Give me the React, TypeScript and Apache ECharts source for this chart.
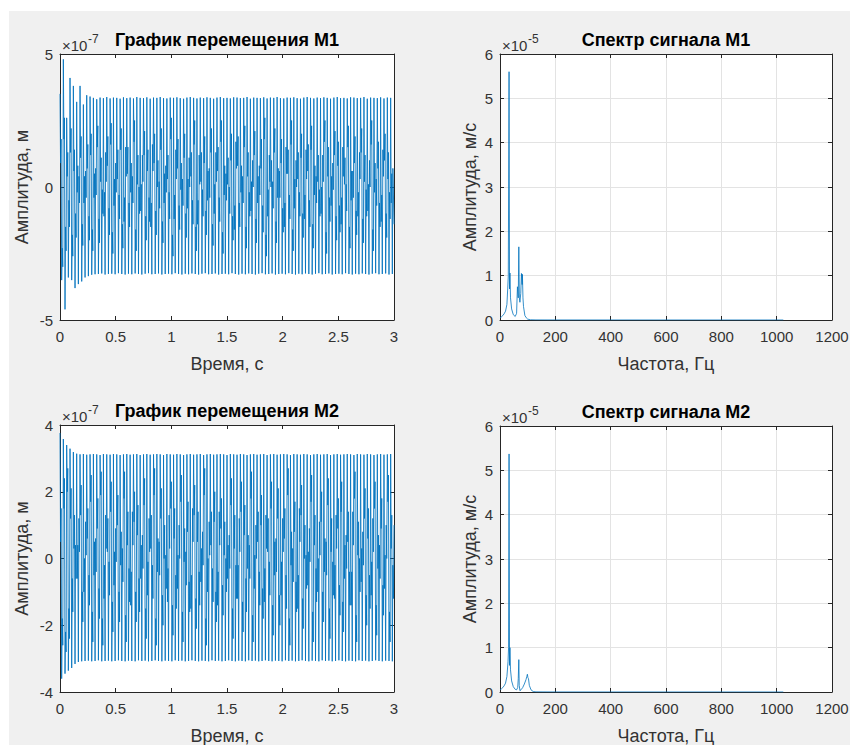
import React, { useEffect, useRef } from "react";
import * as echarts from "echarts";

// ---- Time signals (values in units of 1e-7 m), one cycle = 6 samples ----
const sampleStep = 3 / 600; // s

const peaksM1 = [3.5,4.8,2.6,4.1,3.8,3.2,3.8,3.1,3.45,3.4,
3.35,3.3,3.36,3.34,3.38,3.33,3.36,3.35,3.32,3.37,
3.34,3.36,3.33,3.38,3.35,3.34,3.37,3.32,3.36,3.35,
3.38,3.34,3.33,3.36,3.35,3.37,3.34,3.32,3.36,3.38,
3.35,3.33,3.36,3.34,3.37,3.35,3.32,3.36,3.38,3.34,
3.35,3.33,3.37,3.36,3.34,3.35,3.38,3.32,3.36,3.35,
3.34,3.37,3.33,3.36,3.35,3.38,3.34,3.33,3.36,3.35,
3.37,3.34,3.32,3.36,3.38,3.35,3.33,3.36,3.34,3.37,
3.35,3.32,3.36,3.38,3.34,3.35,3.33,3.37,3.36,3.34,
3.35,3.38,3.32,3.36,3.35,3.34,3.37,3.33,3.36,3.35];
const troughsM1 = [-3.5,-4.6,-3.4,-3.5,-3.8,-3.65,-3.55,-3.4,-3.35,-3.3,
-3.28,-3.27,-3.25,-3.29,-3.27,-3.26,-3.28,-3.24,-3.27,-3.29,
-3.26,-3.28,-3.25,-3.27,-3.29,-3.26,-3.24,-3.28,-3.27,-3.25,
-3.29,-3.27,-3.26,-3.28,-3.24,-3.27,-3.29,-3.26,-3.28,-3.25,
-3.27,-3.29,-3.26,-3.24,-3.28,-3.27,-3.25,-3.29,-3.27,-3.26,
-3.28,-3.24,-3.27,-3.29,-3.26,-3.28,-3.25,-3.27,-3.29,-3.26,
-3.24,-3.28,-3.27,-3.25,-3.29,-3.27,-3.26,-3.28,-3.24,-3.27,
-3.29,-3.26,-3.28,-3.25,-3.27,-3.29,-3.26,-3.24,-3.28,-3.27,
-3.25,-3.29,-3.27,-3.26,-3.28,-3.24,-3.27,-3.29,-3.26,-3.28,
-3.25,-3.27,-3.29,-3.26,-3.24,-3.28,-3.27,-3.25,-3.29,-3.27];
const fallA_M1 = [0.9,1.8,0.4,1.3,0.6,-0.2,1.1,-0.6,0.7,1.2,
-0.4,1.5,0.2,-1.1,0.8,1.6,-0.7,0.3,1.4,-1.3,
0.5,-0.2,1.7,0.1,-0.9,1.2,0.6,-1.5,0.9,0.0,
1.4,-0.6,0.3,1.8,-1.2,0.7,-0.1,1.1,-0.8,0.4,
1.6,-1.4,0.2,0.9,-0.5,1.3,-1.0,0.6,1.7,-0.3,
0.1,1.0,-1.6,0.8,-0.2,1.5,0.4,-0.9,1.2,-0.6,
0.7,1.8,-1.1,0.0,1.3,-0.4,0.9,-1.5,0.5,1.6,
-0.8,0.3,1.1,-1.2,0.6,1.4,-0.3,0.2,-1.0,1.7,
0.4,-0.7,1.2,0.8,-1.4,0.1,1.5,-0.5,0.9,-1.1,
1.3,0.2,-0.9,1.6,-0.2,0.7,-1.3,1.0,0.3,-0.6];
const fallB_M1 = [1.8,2.6,1.3,2.2,1.4,0.8,1.9,0.4,1.6,2.0,
0.5,2.3,1.1,-0.2,1.9,2.4,0.3,1.4,2.2,-0.4,
1.5,0.9,2.5,1.2,0.1,2.1,1.4,-0.6,2.0,1.0,
2.2,0.5,1.2,2.6,-0.3,1.8,0.9,2.0,0.3,1.3,
2.5,-0.5,1.3,1.9,0.6,2.2,0.1,1.5,2.5,0.8,
1.1,2.0,-0.7,1.9,0.8,2.3,1.3,0.2,2.1,0.4,
1.8,2.6,-0.1,1.0,2.2,0.7,1.8,-0.6,1.4,2.5,
0.3,1.3,2.0,-0.3,1.6,2.3,0.8,1.2,0.0,2.5,
1.5,0.4,2.1,1.7,-0.4,1.1,2.3,0.6,1.9,-0.2,
2.2,1.2,0.1,2.5,0.9,1.7,-0.3,2.0,1.3,0.5];
const riseA_M1 = [-2.3,-1.5,-0.5,-1.8,-1.0,0.4,-1.4,0.6,-1.1,-1.6,
0.7,-1.2,-0.1,1.3,-0.8,-1.7,0.9,-0.3,-1.4,1.5,
-0.6,0.4,-1.6,0.0,1.2,-1.1,-0.4,1.6,-0.9,0.2,
-1.3,0.8,-0.2,-1.8,1.4,-0.7,0.3,-1.0,1.1,-0.5,
-1.5,1.2,-0.1,-0.9,0.7,-1.4,1.3,-0.4,-1.7,0.5,
0.0,-1.1,1.7,-0.6,0.4,-1.5,-0.2,1.0,-1.2,0.8,
-0.7,-1.8,1.2,0.2,-1.3,0.6,-0.8,1.5,-0.3,-1.6,
1.0,-0.2,-1.0,1.4,-0.5,-1.4,0.4,-0.1,1.2,-1.7,
-0.4,0.9,-1.1,-0.7,1.5,0.1,-1.5,0.6,-0.9,1.3,
-1.2,-0.1,1.0,-1.6,0.3,-0.6,1.4,-1.0,-0.2,0.7];
const riseB_M1 = [-3.0,-2.4,-1.5,-2.6,-1.9,-0.6,-2.2,-0.4,-2.0,-2.4,
-0.3,-2.1,-1.0,0.2,-1.8,-2.5,-0.2,-1.2,-2.3,0.4,
-1.5,-0.6,-2.4,-1.0,0.2,-2.0,-1.3,0.6,-1.8,-0.8,
-2.1,-0.2,-1.2,-2.6,0.3,-1.6,-0.7,-1.9,0.0,-1.4,
-2.4,0.1,-1.1,-1.8,-0.4,-2.2,0.2,-1.3,-2.5,-0.5,
-1.0,-2.0,0.7,-1.5,-0.6,-2.3,-1.1,0.0,-2.1,-0.3,
-1.7,-2.6,0.2,-0.8,-2.1,-0.4,-1.7,0.5,-1.2,-2.4,
0.0,-1.1,-1.9,0.3,-1.5,-2.3,-0.6,-1.1,0.2,-2.5,
-1.3,-0.1,-2.0,-1.7,0.4,-0.9,-2.3,-0.4,-1.8,0.3,
-2.1,-1.1,0.0,-2.4,-0.7,-1.5,0.4,-1.9,-1.2,-0.3];
const lastM1 = -1.4;

const peaksM2 = [3.76,3.58,3.4,3.29,3.19,3.14,3.12,3.13,3.11,3.12,
3.13,3.12,3.1,3.13,3.12,3.11,3.13,3.12,3.1,3.12,
3.13,3.11,3.12,3.13,3.1,3.12,3.13,3.11,3.12,3.13,
3.12,3.1,3.13,3.12,3.11,3.13,3.12,3.1,3.12,3.13,
3.11,3.12,3.13,3.1,3.12,3.13,3.11,3.12,3.13,3.12,
3.1,3.13,3.12,3.11,3.13,3.12,3.1,3.12,3.13,3.11,
3.12,3.13,3.1,3.12,3.13,3.11,3.12,3.13,3.12,3.1,
3.13,3.12,3.11,3.13,3.12,3.1,3.12,3.13,3.11,3.12,
3.13,3.1,3.12,3.13,3.11,3.12,3.13,3.12,3.1,3.13,
3.12,3.11,3.13,3.12,3.1,3.12,3.13,3.11,3.12,3.13];
const troughsM2 = [-3.6,-3.45,-3.36,-3.28,-3.16,-3.1,-3.08,-3.07,-3.06,-3.08,
-3.07,-3.05,-3.08,-3.07,-3.06,-3.08,-3.07,-3.05,-3.07,-3.08,
-3.06,-3.07,-3.08,-3.05,-3.07,-3.06,-3.08,-3.07,-3.05,-3.07,
-3.08,-3.06,-3.07,-3.08,-3.05,-3.07,-3.06,-3.08,-3.07,-3.05,
-3.07,-3.08,-3.06,-3.07,-3.08,-3.05,-3.07,-3.06,-3.08,-3.07,
-3.05,-3.07,-3.08,-3.06,-3.07,-3.08,-3.05,-3.07,-3.06,-3.08,
-3.07,-3.05,-3.07,-3.08,-3.06,-3.07,-3.08,-3.05,-3.07,-3.06,
-3.08,-3.07,-3.05,-3.07,-3.08,-3.06,-3.07,-3.08,-3.05,-3.07,
-3.06,-3.08,-3.07,-3.05,-3.07,-3.08,-3.06,-3.07,-3.08,-3.05,
-3.07,-3.06,-3.08,-3.07,-3.05,-3.07,-3.08,-3.06,-3.07,-3.08];
const fallA_M2 = [0.5,1.5,2.0,1.2,0.3,-0.6,1.3,-1.0,0.6,1.7,
-0.5,0.9,1.9,-1.2,0.2,1.4,-0.8,1.0,-0.2,1.8,
0.4,-1.4,1.1,0.7,-0.6,1.6,-1.1,0.3,1.9,-0.4,
1.2,0.0,-1.3,1.5,0.6,-0.9,1.7,-0.1,0.8,-1.5,
1.3,0.5,-0.7,1.9,-1.0,0.4,1.1,-1.4,0.9,0.1,
-0.6,1.6,0.3,-1.2,1.4,0.7,-0.3,1.8,-0.9,0.5,
1.0,-1.3,0.2,1.5,-0.5,1.2,-1.1,0.6,1.9,-0.2,
0.8,-1.5,1.3,0.0,-0.8,1.7,0.4,-1.0,1.1,-0.4,
1.6,0.2,-1.2,0.9,1.4,-0.6,0.5,-1.4,1.8,0.1,
-0.7,1.2,0.6,-1.1,1.5,-0.3,0.9,-0.9,1.7,0.3];
const fallB_M2 = [1.5,2.4,2.7,2.1,1.3,0.4,2.2,0.0,1.5,2.5,
0.5,1.8,2.6,-0.2,1.2,2.3,0.2,1.9,0.8,2.6,
1.4,-0.4,2.0,1.6,0.4,2.4,-0.1,1.3,2.7,0.6,
2.1,1.0,-0.3,2.3,1.5,0.1,2.5,0.9,1.7,-0.5,
2.2,1.4,0.3,2.7,0.0,1.4,2.0,-0.4,1.8,1.1,
0.4,2.4,1.3,-0.2,2.3,1.6,0.7,2.6,0.1,1.4,
1.9,-0.3,1.2,2.3,0.5,2.1,-0.1,1.5,2.7,0.8,
1.7,-0.5,2.2,1.0,0.2,2.5,1.3,0.0,2.0,0.6,
2.4,1.2,-0.2,1.8,2.3,0.4,1.4,-0.4,2.6,1.1,
0.3,2.1,1.5,-0.1,2.3,0.7,1.8,0.1,2.5,1.3];
const riseA_M2 = [-1.8,-2.2,-1.5,-0.6,0.4,1.2,-1.0,1.1,-0.5,-1.6,
0.6,-0.9,-1.8,1.3,-0.1,-1.3,0.9,-1.0,0.3,-1.7,
-0.3,1.4,-1.0,-0.6,0.7,-1.5,1.2,-0.2,-1.8,0.5,
-1.1,0.1,1.3,-1.4,-0.5,1.0,-1.6,0.2,-0.7,1.5,
-1.2,-0.4,0.8,-1.8,1.1,-0.3,-1.0,1.4,-0.8,0.0,
0.7,-1.5,-0.2,1.2,-1.3,-0.6,0.4,-1.7,1.0,-0.4,
-0.9,1.3,-0.1,-1.4,0.6,-1.1,1.2,-0.5,-1.8,0.3,
-0.7,1.5,-1.2,0.1,0.9,-1.6,-0.3,1.1,-1.0,0.5,
-1.5,-0.1,1.3,-0.8,-1.3,0.7,-0.4,1.4,-1.7,0.0,
0.8,-1.1,-0.5,1.2,-1.4,0.4,-0.8,1.0,-1.6,-0.2];
const riseB_M2 = [-2.6,-2.8,-2.4,-1.6,-0.6,0.2,-1.9,0.1,-1.4,-2.5,
-0.4,-1.8,-2.6,0.3,-1.1,-2.2,-0.1,-1.9,-0.7,-2.5,
-1.3,0.4,-1.9,-1.6,-0.3,-2.4,0.2,-1.2,-2.6,-0.5,
-2.0,-0.9,0.3,-2.3,-1.5,0.0,-2.5,-0.8,-1.6,0.5,
-2.1,-1.4,-0.2,-2.6,0.1,-1.3,-1.9,0.4,-1.7,-1.0,
-0.3,-2.4,-1.2,0.2,-2.2,-1.6,-0.6,-2.5,0.0,-1.4,
-1.8,0.3,-1.1,-2.3,-0.4,-2.0,0.2,-1.5,-2.6,-0.7,
-1.6,0.5,-2.1,-0.9,-0.1,-2.5,-1.3,0.1,-1.9,-0.5,
-2.4,-1.1,0.3,-1.7,-2.2,-0.3,-1.4,0.4,-2.5,-1.0,
-0.2,-2.0,-1.5,0.2,-2.3,-0.6,-1.7,0.0,-2.5,-1.2];
const lastM2 = 1.0;

// ---- Spectra (values in units of 1e-5 m/s) ----
const freqM1 = [0,5,10,15,20,25,28,30,32.7,34.5,36,38,42,48,55,60,63,66,68,70,72,75,77.5,80,81,83,85,90,95,100,110,130,200,400,600,800,1000,1024];
const ampM1 = [0.05,0.07,0.1,0.14,0.2,0.35,0.72,1.0,5.6,0.7,1.06,0.5,0.25,0.12,0.08,0.15,0.75,0.5,1.65,0.5,0.4,0.6,1.05,0.8,1.03,0.5,0.3,0.1,0.05,0.02,0.005,0.002,0.001,0.0005,0.0003,0.0002,0.0002,0.0002];
const freqM2 = [0,5,10,15,20,25,29,31,32.7,34.5,36,38,42,48,55,60,64,66,68,69.5,72,76,82,88,94,97,99,101,103,106,112,120,130,200,400,600,800,1000,1024];
const ampM2 = [0.05,0.07,0.1,0.14,0.2,0.35,0.68,1.0,5.37,0.6,1.0,0.5,0.25,0.12,0.06,0.05,0.1,0.3,0.73,0.15,0.03,0.05,0.1,0.18,0.28,0.35,0.4,0.32,0.3,0.15,0.05,0.01,0.003,0.001,0.0005,0.0003,0.0002,0.0002,0.0002];

// ---- Texts ----
const titles = ["График перемещения M1", "Спектр сигнала M1", "График перемещения M2", "Спектр сигнала M2"];
const xNames = ["Время, с", "Частота, Гц", "Время, с", "Частота, Гц"];
const yNames = ["Амплитуда, м", "Амплитуда, м/с", "Амплитуда, м", "Амплитуда, м/с"];
const exponents = ["-7", "-5", "-7", "-5"];

function buildSignal(p: number[], fa: number[], fb: number[], t: number[], ra: number[], rb: number[], last: number) {
  const out: number[][] = [];
  for (let i = 0; i < p.length; i++) {
    const b = 6 * i;
    out.push([b * sampleStep, p[i]]);
    out.push([(b + 1) * sampleStep, fa[i]]);
    out.push([(b + 2) * sampleStep, fb[i]]);
    out.push([(b + 3) * sampleStep, t[i]]);
    out.push([(b + 4) * sampleStep, ra[i]]);
    out.push([(b + 5) * sampleStep, rb[i]]);
  }
  out.push([3, last]);
  return out;
}
function pairs(x: number[], y: number[]) {
  return x.map((v, i) => [v, y[i]]);
}

const AX = "#262626";
const FONT = "Arial, 'Liberation Sans', Helvetica, sans-serif";

export default function App() {
  const ref = useRef<HTMLDivElement>(null);
  useEffect(() => {
    if (!ref.current) return;
    const chart = echarts.init(ref.current, undefined, { renderer: "svg" });
    const grids = [
      { left: 60, top: 54, width: 334, height: 266 },
      { left: 500, top: 54, width: 332, height: 266 },
      { left: 60, top: 425, width: 334, height: 267 },
      { left: 500, top: 426, width: 332, height: 266 },
    ];
    const xr = [
      { min: 0, max: 3, interval: 0.5 },
      { min: 0, max: 1200, interval: 200 },
      { min: 0, max: 3, interval: 0.5 },
      { min: 0, max: 1200, interval: 200 },
    ];
    const yr = [
      { min: -5, max: 5, interval: 5 },
      { min: 0, max: 6, interval: 1 },
      { min: -4, max: 4, interval: 2 },
      { min: 0, max: 6, interval: 1 },
    ];
    const isSpec = [false, true, false, true];
    const mkAxis = (i: number, r: any, pos: string, primary: boolean, isX: boolean) => ({
      type: "value",
      gridIndex: i,
      position: pos,
      min: r.min,
      max: r.max,
      interval: r.interval,
      axisLine: { show: true, onZero: false, lineStyle: { color: AX, width: 1 } },
      axisTick: { show: true, inside: true, length: 4, lineStyle: { color: AX } },
      axisLabel: {
        show: primary,
        color: "#333333",
        fontSize: 15,
        fontFamily: FONT,
        margin: isX ? 9 : 7,
        formatter: (v: number) => String(v),
      },
      splitLine: { show: primary && isSpec[i], lineStyle: { color: "#e3e3e3", width: 1 } },
    });
    const xAxis: any[] = [];
    const yAxis: any[] = [];
    for (let i = 0; i < 4; i++) {
      xAxis.push(mkAxis(i, xr[i], "bottom", true, true));
      yAxis.push(mkAxis(i, yr[i], "left", true, false));
    }
    for (let i = 0; i < 4; i++) {
      xAxis.push(mkAxis(i, xr[i], "top", false, true));
      yAxis.push(mkAxis(i, yr[i], "right", false, false));
    }
    const seriesData = [
      buildSignal(peaksM1, fallA_M1, fallB_M1, troughsM1, riseA_M1, riseB_M1, lastM1),
      pairs(freqM1, ampM1),
      buildSignal(peaksM2, fallA_M2, fallB_M2, troughsM2, riseA_M2, riseB_M2, lastM2),
      pairs(freqM2, ampM2),
    ];
    const series = seriesData.map((d, i) => ({
      type: "line",
      xAxisIndex: i,
      yAxisIndex: i,
      data: d,
      showSymbol: false,
      symbol: "none",
      silent: true,
      lineStyle: { color: "#0072BD", width: isSpec[i] ? 0.8 : 1.0, opacity: isSpec[i] ? 1 : 0.85 },
    }));
    const graphic: any[] = [];
    grids.forEach((g, i) => {
      const cx = g.left + g.width / 2;
      const cy = g.top + g.height / 2;
      graphic.push({
        type: "text",
        x: cx,
        y: g.top - 14,
        style: { text: titles[i], font: `bold 18px ${FONT}`, fill: "#000", textAlign: "center", textVerticalAlign: "middle" },
      });
      graphic.push({
        type: "text",
        x: cx,
        y: g.top + g.height + 44,
        style: { text: xNames[i], font: `18px ${FONT}`, fill: "#333333", textAlign: "center", textVerticalAlign: "middle" },
      });
      graphic.push({
        type: "text",
        x: g.left - (isSpec[i] ? 30 : 38),
        y: cy,
        rotation: Math.PI / 2,
        style: { text: yNames[i], font: `18px ${FONT}`, fill: "#333333", textAlign: "center", textVerticalAlign: "middle" },
      });
      graphic.push({
        type: "text",
        x: g.left + 2,
        y: g.top - 9,
        style: { text: "×10", font: `15px ${FONT}`, fill: "#333333", textAlign: "left", textVerticalAlign: "middle" },
      });
      graphic.push({
        type: "text",
        x: g.left + 28,
        y: g.top - 15,
        style: { text: exponents[i], font: `12px ${FONT}`, fill: "#333333", textAlign: "left", textVerticalAlign: "middle" },
      });
    });
    chart.setOption({
      animation: false,
      backgroundColor: "transparent",
      grid: grids.map((g) => ({ ...g, show: true, backgroundColor: "#ffffff", borderWidth: 0 })),
      xAxis,
      yAxis,
      series,
      graphic,
    });
    return () => chart.dispose();
  }, []);
  return (
    <>
      <div style={{ position: "absolute", left: 9, top: 11, width: 841, height: 734, background: "#f0f0f0" }} />
      <div ref={ref} style={{ position: "absolute", left: 0, top: 0, width: 853, height: 745 }} />
    </>
  );
}
